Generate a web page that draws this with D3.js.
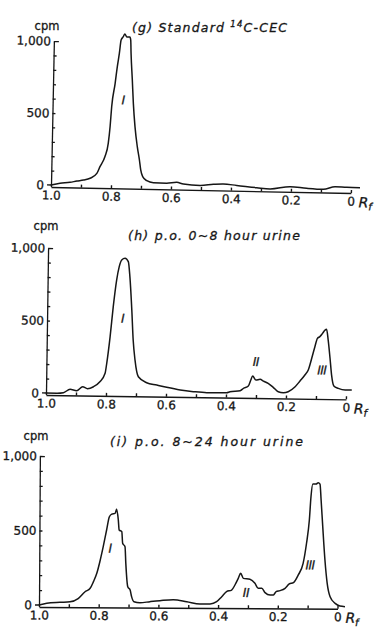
<!DOCTYPE html>
<html>
<head>
<meta charset="utf-8">
<script src="https://cdn.jsdelivr.net/npm/d3@7/dist/d3.min.js"></script>
<style>
  body { margin: 0; background: #fff; }
  svg { display: block; background: #fff; }
  text { paint-order: stroke; stroke: #161616; stroke-width: 0.3px; }
</style>
</head>
<body>
<svg id="chart" width="379" height="628"></svg>
<script>
// traces (Rf, cpm)
let rfG  = [1.0, 0.97, 0.937, 0.914, 0.892, 0.87, 0.848, 0.838, 0.822, 0.812, 0.807, 0.803, 0.793, 0.787, 0.781, 0.776, 0.769, 0.764, 0.757, 0.747, 0.744, 0.742, 0.736, 0.731, 0.724, 0.715, 0.707, 0.702, 0.695, 0.681, 0.659, 0.615, 0.581, 0.559, 0.503, 0.459, 0.426, 0.381, 0.314, 0.27, 0.203, 0.148, 0.092, 0.053, 0.014, -0.03];
let cpmG = [0, 13, 21, 31, 39, 52, 87, 134, 205, 297, 413, 552, 715, 830, 923, 1016, 1040, 1059, 1038, 1039, 1018, 926, 740, 578, 417, 278, 186, 117, 71, 43, 30, 28, 36, 25, 18, 27, 31, 23, 10, 3, 22, 13, 8, 28, 25, 24];

let rfH  = [1.0, 0.964, 0.942, 0.92, 0.898, 0.878, 0.862, 0.842, 0.821, 0.804, 0.799, 0.789, 0.78, 0.77, 0.762, 0.754, 0.743, 0.732, 0.726, 0.718, 0.712, 0.705, 0.693, 0.665, 0.631, 0.598, 0.553, 0.509, 0.464, 0.398, 0.387, 0.353, 0.342, 0.326, 0.318, 0.312, 0.301, 0.287, 0.276, 0.26, 0.243, 0.226, 0.209, 0.193, 0.17, 0.154, 0.138, 0.127, 0.116, 0.106, 0.098, 0.09, 0.081, 0.073, 0.068, 0.062, 0.055, 0.049, 0.041, 0.026, 0.003, -0.019];
let cpmH = [0, 0, 4, 28, 19, 47, 34, 48, 83, 142, 211, 395, 602, 786, 879, 925, 937, 914, 811, 581, 374, 237, 121, 81, 66, 51, 34, 24, 18, 20, 27, 35, 52, 68, 110, 138, 110, 116, 104, 89, 62, 32, 26, 33, 68, 108, 150, 185, 266, 346, 404, 416, 439, 462, 467, 393, 268, 152, 77, 61, 50, 51];

let rfI  = [1.0, 0.974, 0.93, 0.896, 0.869, 0.846, 0.829, 0.818, 0.807, 0.797, 0.786, 0.775, 0.766, 0.758, 0.747, 0.742, 0.736, 0.733, 0.724, 0.721, 0.713, 0.71, 0.703, 0.695, 0.69, 0.682, 0.662, 0.628, 0.595, 0.55, 0.505, 0.461, 0.427, 0.405, 0.388, 0.372, 0.355, 0.344, 0.333, 0.325, 0.316, 0.294, 0.277, 0.266, 0.254, 0.243, 0.226, 0.215, 0.206, 0.193, 0.176, 0.162, 0.148, 0.132, 0.116, 0.105, 0.096, 0.091, 0.085, 0.074, 0.067, 0.061, 0.057, 0.051, 0.043, 0.035, 0.025, 0.008, -0.008, -0.025];
let cpmI = [0, 12, 19, 23, 45, 91, 114, 159, 215, 293, 394, 506, 595, 613, 618, 645, 574, 507, 495, 417, 395, 283, 126, 104, 60, 26, 19, 27, 34, 41, 28, 13, 14, 29, 63, 97, 108, 142, 187, 221, 187, 181, 154, 121, 121, 92, 76, 77, 99, 106, 122, 151, 160, 212, 290, 425, 581, 737, 823, 823, 832, 823, 716, 537, 313, 157, 67, 23, 5, 1];

// peak numerals, placed in data units
let peaksG = [{t: "I", rf: 0.765, cpm: 600}];
let peaksH = [{t: "I", rf: 0.748, cpm: 523}, {t: "II", rf: 0.302, cpm: 237}, {t: "III", rf: 0.082, cpm: 186}];
let peaksI = [{t: "I", rf: 0.763, cpm: 383}, {t: "II", rf: 0.307, cpm: 91}, {t: "III", rf: 0.093, cpm: 279}];

let xTicks = [1.0, 0.8, 0.6, 0.4, 0.2, 0];
let xMinor = [1.0, 0.9, 0.8, 0.7, 0.6, 0.5, 0.4, 0.3, 0.2, 0.1, 0];
let yTicks = [0, 500, 1000];
let yMinor = [100, 200, 300, 400, 500, 600, 700, 800, 900, 1000];

let svg = d3.select("#chart");
let ink = "#161616";
let font = "DejaVu Sans";

function fmtRf(d) {
  if (d === 0) return "0";
  return d.toFixed(1);
}

function drawPanel(p) {
  // the scan is a little skewed, so each panel is turned by a hair
  let g = svg.append("g")
    .attr("transform", "translate(" + p.x0 + "," + p.y0 + ") rotate(" + p.angle + ")");

  let x = d3.scaleLinear().domain([1, 0]).range([0, p.w]);
  let y = d3.scaleLinear().domain([0, 1000]).range([0, -p.h]);

  // x axis sits a couple of px under zero
  let xa = g.append("g")
    .attr("transform", "translate(0,2)")
    .call(d3.axisTop(x).tickValues(xMinor).tickSize(3).tickSizeOuter(0).tickFormat(""));
  xa.selectAll("path, line").attr("stroke", ink).attr("stroke-width", 1.4);

  let xl = g.append("g")
    .attr("transform", "translate(0,2)")
    .call(d3.axisBottom(x).tickValues(xTicks).tickSize(0).tickPadding(4).tickFormat(fmtRf));
  xl.select(".domain").remove();
  xl.selectAll("text")
    .attr("fill", ink)
    .style("font-family", font)
    .style("font-size", "12px");

  let rt = g.append("text")
    .attr("x", x(0) + 8)
    .attr("y", 16)
    .attr("fill", ink)
    .style("font-family", font)
    .style("font-style", "italic");
  rt.append("tspan").text("R").style("font-size", "14px");
  rt.append("tspan").text("f").attr("dy", 3).style("font-size", "10px");

  // y axis: minor ticks point inward
  let ya = g.append("g")
    .call(d3.axisRight(y).tickValues(yMinor).tickSize(3).tickSizeOuter(0).tickFormat(""));
  ya.selectAll("path, line").attr("stroke", ink).attr("stroke-width", 1.3);
  ya.selectAll(".tick line").filter(d => d === 1000).attr("x2", 5);

  g.append("line")
    .attr("x1", -4).attr("x2", 0)
    .attr("y1", y(0)).attr("y2", y(0))
    .attr("stroke", ink).attr("stroke-width", 1.3);

  let yl = g.append("g")
    .call(d3.axisLeft(y).tickValues(yTicks).tickSize(0).tickPadding(3).tickFormat(d3.format(",")));
  yl.select(".domain").remove();
  yl.selectAll("text")
    .attr("fill", ink)
    .style("font-family", font)
    .style("font-size", "12px");
  yl.selectAll(".tick text").filter(d => d === 0).attr("x", -7);

  let line = d3.line()
    .x(d => x(d[0]))
    .y(d => y(d[1]))
    .curve(d3.curveMonotoneX);

  g.append("path")
    .datum(d3.zip(p.rf, p.cpm))
    .attr("d", line)
    .attr("fill", "none")
    .attr("stroke", ink)
    .attr("stroke-width", 1.5)
    .attr("stroke-linejoin", "round");

  g.selectAll(".peak")
    .data(p.peaks)
    .enter()
    .append("text")
    .attr("x", d => x(d.rf))
    .attr("y", d => y(d.cpm))
    .attr("dy", "0.35em")
    .attr("text-anchor", "middle")
    .attr("fill", ink)
    .style("font-family", font)
    .style("font-style", "italic")
    .style("font-size", "12px")
    .style("letter-spacing", "-0.5px")
    .text(d => d.t);

  // cpm unit and title are plain page text
  svg.append("text")
    .attr("x", p.cpmX)
    .attr("y", p.cpmY)
    .attr("text-anchor", "middle")
    .attr("fill", ink)
    .style("font-family", font)
    .style("font-size", "11.5px")
    .text("cpm");

  let t = svg.append("text")
    .attr("x", p.tx)
    .attr("y", p.ty)
    .attr("textLength", p.tlen)
    .attr("lengthAdjust", "spacing")
    .attr("fill", ink)
    .style("font-family", font)
    .style("font-style", "italic")
    .style("font-size", "12.5px");
  p.title(t);
}

drawPanel({
  x0: 51, y0: 185, w: 300, h: 144, angle: 1.15,
  rf: rfG, cpm: cpmG, peaks: peaksG,
  cpmX: 47, cpmY: 29.5,
  tx: 132, ty: 32, tlen: 155,
  title: t => {
    t.append("tspan").text("(g) Standard ");
    t.append("tspan").text("14").attr("dy", -5).style("font-size", "8.5px");
    t.append("tspan").text("C-CEC").attr("dy", 5);
  }
});

drawPanel({
  x0: 46, y0: 393, w: 300, h: 145, angle: 0.83,
  rf: rfH, cpm: cpmH, peaks: peaksH,
  cpmX: 46, cpmY: 229.5,
  tx: 128, ty: 240, tlen: 172,
  title: t => t.text("(h) p.o.  0~8 hour  urine")
});

drawPanel({
  x0: 39, y0: 605, w: 298.5, h: 149, angle: 0.34,
  rf: rfI, cpm: cpmI, peaks: peaksI,
  cpmX: 36, cpmY: 440,
  tx: 110, ty: 446, tlen: 193,
  title: t => t.text("(i) p.o.  8~24 hour  urine")
});
</script>
</body>
</html>
